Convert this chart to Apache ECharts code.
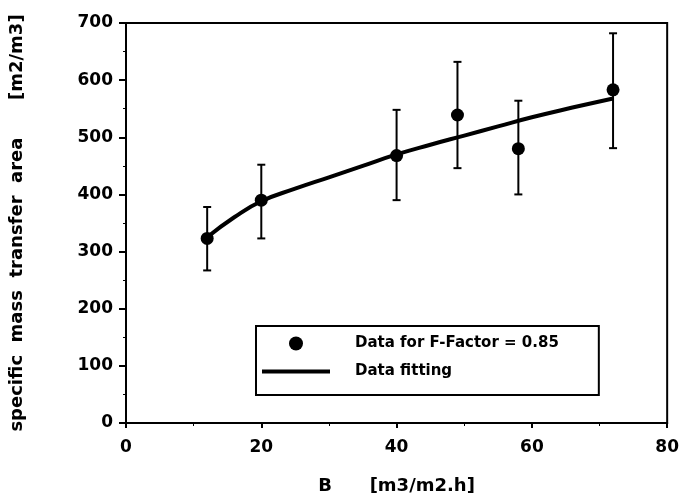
<!DOCTYPE html>
<html>
<head>
<meta charset="utf-8">
<script src="https://cdn.jsdelivr.net/npm/echarts@6/dist/echarts.min.js"></script>
<style>
  html, body { margin: 0; padding: 0; background: #fff; }
  #chart { width: 682px; height: 500px; }
</style>
</head>
<body>
<div id="chart"></div>
<script>
// measured points (B, area) with error bar range
var pointX = [12, 20, 40, 49, 58, 72];
var pointY = [323, 390, 468, 539, 480, 583];
var errLow = [267, 323, 390, 446, 400, 481];
var errHigh = [378, 452, 548, 632, 564, 682];

// fitted curve
var fitX = [12, 16, 20, 25, 30, 35, 40, 45, 50, 55, 60, 66, 72];
var fitY = [325, 360, 388, 410, 430, 450, 470, 487, 503, 519, 535, 552, 568];

var xTicks = [0, 20, 40, 60, 80];

var font = 'DejaVu Sans, sans-serif';

var scatterData = pointX.map(function (x, i) { return [x, pointY[i]]; });
var errData = pointX.map(function (x, i) { return [x, errLow[i], errHigh[i]]; });
var fitData = fitX.map(function (x, i) { return [x, fitY[i]]; });

var chart = echarts.init(document.getElementById('chart'));

chart.setOption({
  backgroundColor: '#fff',
  animation: false,
  grid: {
    left: 126, right: 13, top: 23, bottom: 77,
    show: true, borderColor: '#000', borderWidth: 2, backgroundColor: 'transparent'
  },
  legend: {
    left: 256, top: 326,
    orient: 'vertical',
    data: [
      { name: 'Data for F-Factor = 0.85', icon: 'circle' },
      { name: 'Data fitting', icon: 'path://M0,0 L68,0 L68,4 L0,4 Z' }
    ],
    itemWidth: 68, itemHeight: 14, itemGap: 13,
    padding: [10, 40, 16, 6],
    borderColor: '#000', borderWidth: 2,
    itemStyle: { opacity: 1 },
    textStyle: { fontFamily: font, fontWeight: 'bold', fontSize: 15, color: '#000', padding: [0, 0, 0, 20] }
  },
  xAxis: {
    type: 'value', min: 0, max: 80, interval: 20,
    name: 'B      [m3/m2.h]',
    nameLocation: 'middle', nameGap: 54,
    nameTextStyle: { fontFamily: font, fontWeight: 'bold', fontSize: 18, color: '#000' },
    axisLine: { onZero: false, lineStyle: { color: '#000', width: 2 } },
    axisTick: { show: true, inside: false, length: 5, lineStyle: { color: '#000', width: 2 } },
    minorTick: { show: true, splitNumber: 2, length: 3, lineStyle: { color: '#000', width: 1 } },
    splitLine: { show: false },
    axisLabel: {
      margin: 16, color: '#000', fontFamily: font, fontWeight: 'bold', fontSize: 17,
      formatter: function (v) { return xTicks.indexOf(v) < 0 ? '' : String(v); }
    }
  },
  yAxis: {
    type: 'value', min: 0, max: 700, interval: 100,
    name: 'specific  mass  transfer  area      [m2/m3]',
    nameLocation: 'middle', nameGap: 100,
    nameTextStyle: { fontFamily: font, fontWeight: 'bold', fontSize: 18, color: '#000' },
    axisLine: { onZero: false, lineStyle: { color: '#000', width: 2 } },
    axisTick: { show: true, inside: false, length: 7, lineStyle: { color: '#000', width: 2 } },
    minorTick: { show: true, splitNumber: 2, length: 3, lineStyle: { color: '#000', width: 1 } },
    splitLine: { show: false },
    axisLabel: { margin: 13, color: '#000', fontFamily: font, fontWeight: 'bold', fontSize: 17 }
  },
  series: [
    {
      name: 'Error bars',
      type: 'custom',
      data: errData,
      z: 3,
      renderItem: function (params, api) {
        var x = api.value(0);
        var lo = api.coord([x, api.value(1)]);
        var hi = api.coord([x, api.value(2)]);
        var cap = 4;
        var style = { stroke: '#000', lineWidth: 2 };
        return {
          type: 'group',
          children: [
            { type: 'line', shape: { x1: lo[0], y1: lo[1], x2: hi[0], y2: hi[1] }, style: style },
            { type: 'line', shape: { x1: lo[0] - cap, y1: lo[1], x2: lo[0] + cap, y2: lo[1] }, style: style },
            { type: 'line', shape: { x1: hi[0] - cap, y1: hi[1], x2: hi[0] + cap, y2: hi[1] }, style: style }
          ]
        };
      }
    },
    {
      name: 'Data fitting',
      type: 'line',
      data: fitData,
      smooth: true,
      symbol: 'none',
      z: 4,
      lineStyle: { color: '#000', width: 4 },
      itemStyle: { color: '#000' }
    },
    {
      name: 'Data for F-Factor = 0.85',
      type: 'scatter',
      data: scatterData,
      symbol: 'circle',
      symbolSize: 13,
      z: 5,
      itemStyle: { color: '#000', opacity: 1 }
    }
  ]
});
</script>
</body>
</html>
